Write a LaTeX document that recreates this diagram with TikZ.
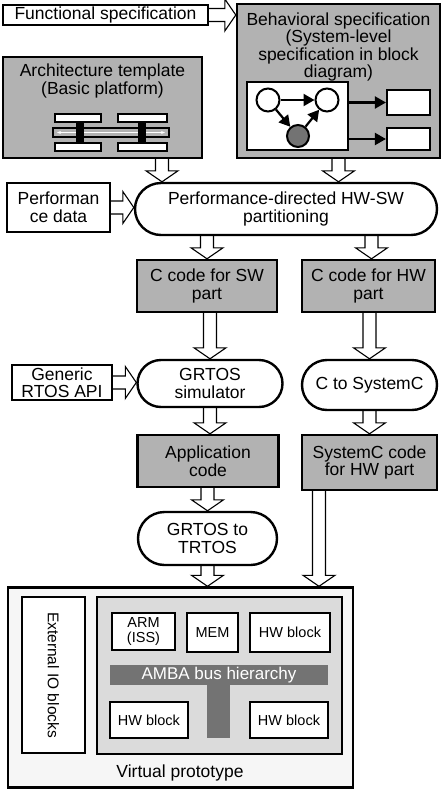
\documentclass[tikz,border=0pt]{standalone}
\usepackage{fontspec}
\setmainfont{Liberation Sans}
\usepackage{tikz}
\usetikzlibrary{arrows.meta, calc, shapes.misc, backgrounds}
\usepackage{xcolor}
\definecolor{boxgray}{gray}{0.7}
\definecolor{busgray}{gray}{0.86}
\definecolor{ambagray}{gray}{0.45}
\definecolor{protogray}{gray}{0.965}

\tikzset{
  txt/.style={font=\fontsize{17.5}{17.5}\selectfont, align=center},
  wbox/.style={txt, draw, line width=2.4pt, fill=white, inner sep=0pt},
  gbox/.style={wbox, fill=boxgray},
  stadium/.style={txt, rounded rectangle, draw, line width=2.4pt, fill=white, inner sep=0pt},
  blk/.style={wbox, line width=2.2pt, font=\fontsize{14.5}{15}\selectfont},
  state/.style={circle, draw, line width=2pt, fill=white, minimum size=23pt, inner sep=0pt},
  tip/.style={line width=2.2pt, -{Triangle[length=11pt, width=12pt]}},
  hollow/.style={draw, line width=1.1pt, fill=white, to path={
    let \p1=(\tikztostart), \p2=(\tikztotarget), \p3=($(\p2)!11pt!(\p1)$) in
    ($(\p1)!6.5pt!90:(\p2)$) -- ($(\p3)!6.5pt!90:(\p2)$) -- ($(\p3)!16pt!90:(\p2)$) -- (\p2)
    -- ($(\p3)!16pt!-90:(\p2)$) -- ($(\p3)!6.5pt!-90:(\p2)$) -- ($(\p1)!6.5pt!-90:(\p2)$)}}
}

\begin{document}
\begin{tikzpicture}[x=1pt, y=-1pt]
    \useasboundingbox (0,0) rectangle (442,790);
    % specifications
    \node[wbox, minimum width=205pt, minimum height=20pt] (func) at (105.5,15) {Functional specification};
    \node[gbox, minimum width=203pt, minimum height=154pt] (behav) at (338.5,81) {};
    \node[txt] (behavtxt) at (338.5,47) {Behavioral specification\\(System-level\\specification in block\\diagram)};
    \node[wbox, line width=2.2pt, minimum width=101pt, minimum height=68pt] (fsm) at (297.5,116) {};
    \node[state] (s1) at (268,100) {};
    \node[state] (s2) at (327,100) {};
    \node[state, fill=ambagray, minimum size=22pt] (s3) at (298,136) {};
    \draw[tip] (s1) -- (s2);
    \draw[tip] (s1) -- (s3);
    \draw[tip] (s3) -- (s2);
    \node[wbox, line width=2.2pt, minimum width=43pt, minimum height=25pt] (out1) at (408.5,102.5) {};
    \node[wbox, line width=2.2pt, minimum width=43pt, minimum height=22pt] (out2) at (408.5,139) {};
    \draw[tip] (fsm.east |- out1) -- (out1.west);
    \draw[tip] (fsm.east |- out2) -- (out2.west);
    % architecture template
    \node[gbox, minimum width=199pt, minimum height=101pt] (arch) at (102.5,107.5) {};
    \node[txt] (archtxt) at (102.5,81) {Architecture template\\(Basic platform)};
    \draw[line width=2pt, fill=boxgray] (53,128) rectangle (169,137);
    \draw[white, line width=0.8pt, {Stealth[length=4pt]}-{Stealth[length=4pt]}] (57,132.5) -- (165,132.5);
    \foreach \xa/\xb in {55/101, 118/167} {
        \draw[line width=2.2pt, fill=white] (\xa,114) rectangle (\xb,122);
        \draw[line width=2.2pt, fill=white] (\xa,143) rectangle (\xb,151);
    }
    \fill (76,123) rectangle (84,142);
    \fill (138,123) rectangle (146,142);
    % partitioning and code generation
    \node[wbox, minimum width=103pt, minimum height=49pt] (perf) at (58.5,207.5) {Performan\\ce data};
    \node[stadium, minimum width=302pt, minimum height=52pt] (part) at (286,209) {Performance-directed HW-SW\\partitioning};
    \node[gbox, minimum width=140pt, minimum height=52pt] (swc) at (207,286) {C code for SW\\part};
    \node[gbox, minimum width=133pt, minimum height=52pt] (hwc) at (368.5,286) {C code for HW\\part};
    \node[wbox, minimum width=100pt, minimum height=35pt] (api) at (62,382.5) {Generic\\RTOS API};
    \node[stadium, minimum width=145pt, minimum height=47pt] (sim) at (210,383.5) {GRTOS\\simulator};
    \node[stadium, minimum width=135pt, minimum height=50pt] (c2sc) at (369.5,385) {C to SystemC};
    \node[gbox, minimum width=141pt, minimum height=52pt] (app) at (208,461) {Application\\code};
    \node[gbox, minimum width=135pt, minimum height=55pt] (scc) at (369.5,462.5) {SystemC code\\for HW part};
    \node[stadium, minimum width=139pt, minimum height=53pt] (g2t) at (207.5,538.5) {GRTOS to\\TRTOS};
    % virtual prototype
    \node[wbox, fill=protogray, minimum width=345pt, minimum height=200pt] (vp) at (180.5,687.5) {};
    \node[wbox, line width=2.2pt, rotate=-90, minimum width=156pt, minimum height=63pt,
          font=\fontsize{15.5}{16}\selectfont] (extio) at (53.5,675) {External IO blocks};
    \node[wbox, line width=2.2pt, fill=busgray, minimum width=245pt, minimum height=157pt] (bus) at (219.5,675.5) {};
    \node[blk, minimum width=63pt, minimum height=37pt] (arm) at (143.5,631.5) {ARM\\(ISS)};
    \node[blk, minimum width=51pt, minimum height=39pt] (mem) at (212.5,632.5) {MEM};
    \node[blk, minimum width=80pt, minimum height=39pt] (hwa) at (290,632.5) {HW block};
    \fill[ambagray] (207,684) rectangle (230,738);
    \node[fill=ambagray, text=white, inner sep=0pt, minimum width=218pt, minimum height=20pt,
          font=\fontsize{17}{17}\selectfont] (amba) at (219,675) {AMBA bus hierarchy};
    \node[blk, minimum width=78pt, minimum height=36pt] (hwb) at (149,720) {HW block};
    \node[blk, minimum width=78pt, minimum height=36pt] (hwd) at (289,720) {HW block};
    \node[txt] (vptxt) at (180,773) {Virtual prototype};
    % flow arrows
    \begin{scope}[on background layer]
        \draw[hollow] (func.east) to (func.east -| behav.west);
        \draw[hollow] ([xshift=59.5pt]arch.south) to ([xshift=59.5pt]arch.south |- part.north);
        \draw[hollow] (behav.south) to (behav.south |- part.north);
        \draw[hollow] (perf.east) to (perf.east -| part.west);
        \draw[hollow] (swc.north |- part.south) to (swc.north);
        \draw[hollow] ([xshift=3pt]hwc.north |- part.south) to ([xshift=3pt]hwc.north);
        \draw[hollow] (sim.north |- swc.south) to (sim.north);
        \draw[hollow] (c2sc.north |- hwc.south) to (c2sc.north);
        \draw[hollow] (api.east) to (api.east -| sim.west);
        \draw[hollow] (sim.south) to (sim.south |- app.north);
        \draw[hollow] (c2sc.south) to (c2sc.south |- scc.north);
        \draw[hollow] (g2t.north |- app.south) to (g2t.north);
        \draw[hollow] (g2t.south) to (g2t.south |- vp.north);
        \draw[hollow] ([xshift=-50.5pt]scc.south) to ([xshift=-50.5pt]scc.south |- vp.north);
    \end{scope}
\end{tikzpicture}
\end{document}
